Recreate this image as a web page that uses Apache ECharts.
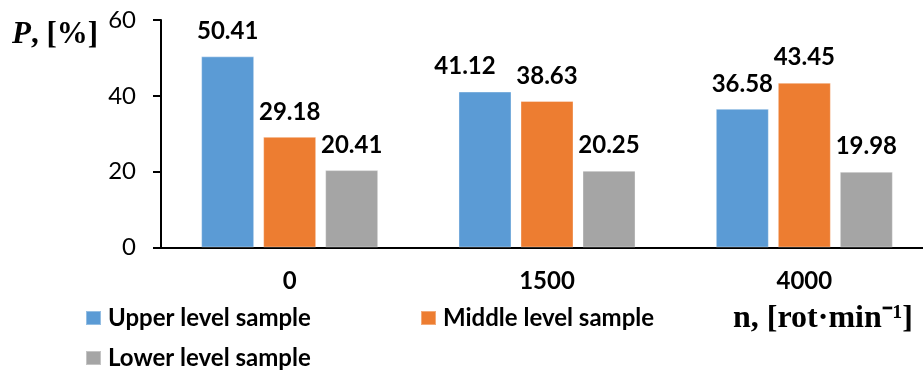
<!DOCTYPE html>
<html><head><meta charset="utf-8">
<script src="https://cdn.jsdelivr.net/npm/echarts@6/dist/echarts.min.js"></script>
<style>html,body{margin:0;padding:0;background:#fff}#c{width:923px;height:370px}</style>
</head><body><div id="c"></div>
<script>
const categories = ['0', '1500', '4000'];
const upper = [50.41, 41.12, 36.58];
const middle = [29.18, 38.63, 43.45];
const lower = [20.41, 20.25, 19.98];
const seriesNames = ['Upper level sample', 'Middle level sample', 'Lower level sample'];
const colors = ['#5B9BD5', '#ED7D31', '#A5A5A5'];
const yTicks = { min: 0, max: 60, interval: 20 };

const FONT = 'Lato';
const chart = echarts.init(document.getElementById('c'));
const mk = (name, data, color, offsets) => ({
  name, type: 'bar',
  data: data.map((v, i) => offsets && offsets[i] ? { value: v, label: { offset: offsets[i] } } : v),
  barWidth: 53, barGap: '17%',
  itemStyle: { color, borderColor: 'rgba(255,255,255,0.35)', borderWidth: 1 },
  label: { show: true, position: 'top', distance: 13, color: '#000', fontFamily: FONT,
    fontWeight: 'bold', fontSize: 24, lineHeight: 24, formatter: p => p.value.toFixed(2) }
});
const legendBase = {
  itemWidth: 15, itemHeight: 14, icon: 'rect', padding: 0,
  textStyle: { fontFamily: FONT, fontWeight: 'bold', fontSize: 24, lineHeight: 22, color: '#000', padding: [0, 0, 0, 2] }
};
chart.setOption({
  animation: false,
  backgroundColor: '#fff',
  grid: { left: 161, top: 20, height: 227.5, width: 772, containLabel: false, outerBoundsMode: 'none' },
  xAxis: {
    type: 'category', data: categories,
    axisLine: { lineStyle: { color: '#000', width: 2 } },
    axisTick: { show: false },
    axisLabel: { color: '#000', fontFamily: FONT, fontWeight: 'bold', fontSize: 24, lineHeight: 22, margin: 23 },
    splitLine: { show: false }
  },
  yAxis: {
    type: 'value', min: yTicks.min, max: yTicks.max, interval: yTicks.interval,
    axisLine: { show: true, lineStyle: { color: '#000', width: 2 } },
    axisTick: { show: true, length: 8, lineStyle: { color: '#000', width: 2 } },
    axisLabel: { color: '#000', fontFamily: FONT, fontSize: 24, margin: 25 },
    splitLine: { show: false }
  },
  legend: [
    Object.assign({ data: [seriesNames[0]], left: 85, top: 306 }, legendBase),
    Object.assign({ data: [seriesNames[1]], left: 420, top: 306 }, legendBase),
    Object.assign({ data: [seriesNames[2]], left: 85, top: 346 }, legendBase)
  ],
  graphic: [
    { type: 'text', left: 12, top: 19, style: {
      text: '{i|P}{b|, [%]}', rich: {
        i: { fontFamily: 'Liberation Serif', fontStyle: 'italic', fontWeight: 'bold', fontSize: 31, fill: '#000' },
        b: { fontFamily: 'Liberation Serif', fontWeight: 'bold', fontSize: 31, fill: '#000' } } } },
    { type: 'text', left: 733, top: 303, style: {
      text: 'n, [rot·min⁻¹]', fontFamily: 'Liberation Serif', fontWeight: 'bold', fontSize: 32, fill: '#000' } }
  ],
  series: [
    mk(seriesNames[0], upper, colors[0], [null, [-20, 0], null]),
    mk(seriesNames[1], middle, colors[1]),
    mk(seriesNames[2], lower, colors[2])
  ]
});
</script></body></html>
